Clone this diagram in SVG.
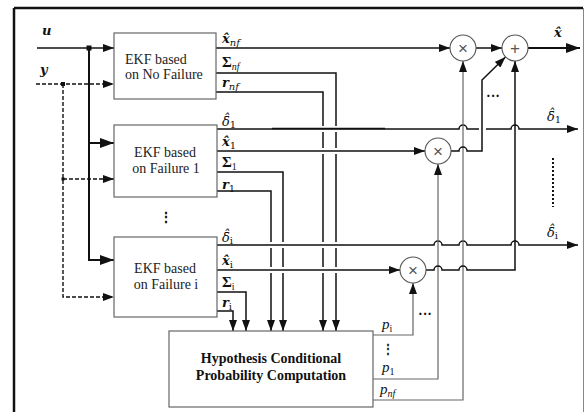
<svg xmlns="http://www.w3.org/2000/svg" width="586" height="412" viewBox="0 0 586 412">
<style>
.box{fill:#fff;stroke:#666;stroke-width:1.2}
.ln{fill:none;stroke:#111;stroke-width:1.5}
.th{fill:none;stroke:#111;stroke-width:2}
.gl{fill:none;stroke:#666;stroke-width:1.2}
.dash{fill:none;stroke:#111;stroke-width:1.4;stroke-dasharray:4 2}
.halo{fill:none;stroke:#fff;stroke-width:6}
.circ{fill:#fff;stroke:#555;stroke-width:1.1}
.t{font-family:"Liberation Serif",serif;font-size:14px;fill:#222}
.b{font-family:"Liberation Serif",serif;font-size:14px;font-weight:bold;fill:#111}
.m{font-family:"DejaVu Serif","Liberation Serif",serif;font-size:13px;font-weight:bold;font-style:italic;fill:#111}
.g{font-family:"Liberation Serif",serif;font-size:15px;font-weight:bold;fill:#111}
.d{font-family:"DejaVu Serif","Liberation Serif",serif;font-size:13px;font-style:italic;fill:#111}
.p{font-family:"Liberation Serif",serif;font-size:15px;font-style:italic;fill:#111}
.s{font-size:10px;font-style:italic;font-weight:normal}
.sr{font-size:10px;font-style:normal;font-weight:normal}
.op{font-family:"Liberation Sans",sans-serif;font-size:17px;fill:#555;text-anchor:middle}
</style>
<defs>
<marker id="a" markerUnits="userSpaceOnUse" markerWidth="11" markerHeight="8" refX="11" refY="4" orient="auto"><path d="M0,0 L11,4 L0,8 z" fill="#111"/></marker>
<marker id="ab" markerUnits="userSpaceOnUse" markerWidth="14" markerHeight="10" refX="14" refY="5" orient="auto"><path d="M0,0 L14,5 L0,10 z" fill="#111"/></marker>
</defs>
<g id="frame">
<path d="M14,8 H583" stroke="#111" stroke-width="2.5" fill="none"/>
<path d="M14,8 V412" stroke="#111" stroke-width="2.5" fill="none"/>
<path d="M583.5,8 V412" stroke="#888" stroke-width="1" fill="none"/>
</g>
<g id="connectors">
<path class="ln" d="M37,48 H114" marker-end="url(#a)"/>
<rect x="86.5" y="45.5" width="5" height="5" fill="#111"/>
<path class="th" d="M89,48 V260 H114" marker-end="url(#ab)"/>
<path class="th" d="M89,143 H114" marker-end="url(#ab)"/>
<path class="dash" d="M36,84 H114" marker-end="url(#a)"/>
<rect x="61" y="82" width="4" height="4" fill="#111"/>
<path class="dash" d="M63,84 V297 H114" marker-end="url(#a)"/>
<path class="dash" d="M63,179 H114" marker-end="url(#a)" stroke-width="1.1"/>
<rect x="61.5" y="177.5" width="3" height="3" fill="#111"/>
<path class="ln" d="M216,48 H450" marker-end="url(#a)"/>
<path class="ln" d="M216,73 H336 V331" marker-end="url(#a)"/>
<path class="ln" d="M216,92 H323 V331" marker-end="url(#a)"/>
<path class="ln" d="M217,172 H283 V331" marker-end="url(#a)"/>
<path class="ln" d="M217,191 H271 V331" marker-end="url(#a)"/>
<path class="ln" d="M217,292 H246 V331" marker-end="url(#a)"/>
<path class="ln" d="M217,311 H233 V331" marker-end="url(#a)"/>
<path class="halo" d="M264,129 H343 M264,151 H343 M264,245 H343 M264,270 H343"/>
<path class="ln" d="M217,129 H459 a4,4 0 0 1 8,0 H479 M486,129 H511 a4,4 0 0 1 8,0 H578" stroke-width="1.1" marker-end="url(#a)"/>
<path class="ln" d="M272,128.5 H385" stroke-width="2"/>
<path class="ln" d="M217,151 H425" marker-end="url(#a)"/>
<path class="ln" d="M217,245 H434 a4,4 0 0 1 8,0 H459 a4,4 0 0 1 8,0 H511 a4,4 0 0 1 8,0 H578" stroke-width="1.1" marker-end="url(#a)"/>
<path class="ln" d="M217,270 H400" stroke-width="1.8" marker-end="url(#a)"/>
<path class="gl" d="M373,400 H463 V61" marker-end="url(#a)"/>
<path class="gl" d="M373,379 H438 V164" marker-end="url(#a)"/>
<path class="gl" d="M373,335 H413 V283" marker-end="url(#a)"/>
<path class="ln" d="M451,151 H459 a4,4 0 0 1 8,0 H482 V80 L505.5,57" marker-end="url(#a)"/>
<path class="ln" d="M426,270 H434 a4,4 0 0 1 8,0 H459 a4,4 0 0 1 8,0 H515 V61" marker-end="url(#a)"/>
<path class="ln" d="M476,48 H502" marker-end="url(#a)"/>
<path class="th" d="M528,48 H580" marker-end="url(#ab)"/>
<path d="M553,158 V207" stroke="#111" stroke-width="2" stroke-dasharray="2 2" fill="none"/>
</g>
<g id="ekf_nf">
<rect class="box" x="114" y="33" width="102" height="66"/>
<text class="t" x="125" y="64">EKF based</text>
<text class="t" x="125" y="79">on No Failure</text>
</g>
<g id="ekf_1">
<rect class="box" x="114" y="125" width="103" height="72"/>
<text class="t" x="165" y="157" text-anchor="middle">EKF based</text>
<text class="t" x="166" y="173" text-anchor="middle">on Failure 1</text>
</g>
<g id="ekf_i">
<rect class="box" x="114" y="237" width="103" height="80"/>
<text class="t" x="165" y="273" text-anchor="middle">EKF based</text>
<text class="t" x="166" y="289" text-anchor="middle">on Failure i</text>
</g>
<g id="hcp">
<rect class="box" x="169" y="331" width="204" height="76"/>
<text class="b" x="271" y="363" text-anchor="middle">Hypothesis Conditional</text>
<text class="b" x="271" y="380" text-anchor="middle">Probability Computation</text>
</g>
<g id="mult_nf"><circle class="circ" cx="463" cy="48" r="13"/><text class="op" x="463" y="54">×</text></g>
<g id="mult_1"><circle class="circ" cx="438" cy="151" r="13"/><text class="op" x="438" y="157">×</text></g>
<g id="mult_i"><circle class="circ" cx="413" cy="270" r="13"/><text class="op" x="413" y="276">×</text></g>
<g id="sum"><circle class="circ" cx="515" cy="48" r="13"/><text class="op" x="515" y="54">+</text></g>
<g id="labels">
<text class="m" x="42" y="35">u</text>
<text class="m" x="40" y="74">y</text>
<text class="m" x="222" y="43">x̂<tspan class="s" dy="3">nf</tspan></text>
<text class="g" x="222" y="67">Σ<tspan class="s" dy="3">nf</tspan></text>
<text class="m" x="222" y="87">r<tspan class="s" dy="3">nf</tspan></text>
<text class="d" x="222" y="126">δ̄̂<tspan class="sr" dy="2">1</tspan></text>
<text class="m" x="222" y="146">x̂<tspan class="sr" dy="3">1</tspan></text>
<text class="g" x="222" y="167">Σ<tspan class="sr" dy="3">1</tspan></text>
<text class="m" x="222" y="189">r<tspan class="sr" dy="3">1</tspan></text>
<text class="d" x="222" y="242">δ̄̂<tspan class="sr" dy="2">i</tspan></text>
<text class="m" x="222" y="265">x̂<tspan class="sr" dy="3">i</tspan></text>
<text class="g" x="222" y="287">Σ<tspan class="sr" dy="3">i</tspan></text>
<text class="m" x="222" y="307">r<tspan class="sr" dy="3">i</tspan></text>
<text class="d" x="547" y="121">δ̄̂<tspan class="sr" dy="2">1</tspan></text>
<text class="d" x="547" y="237">δ̄̂<tspan class="sr" dy="2">i</tspan></text>
<text class="m" x="554" y="37">x̂</text>
<text class="p" x="382" y="329">p<tspan class="sr" dy="3">i</tspan></text>
<text class="p" x="382" y="372">p<tspan class="sr" dy="3">1</tspan></text>
<text class="p" x="380" y="394">p<tspan class="s" dy="3">nf</tspan></text>
<text class="b" x="166" y="222" text-anchor="middle">⋮</text>
<text class="b" x="388" y="353" text-anchor="middle" style="font-size:12px">⋮</text>
<text class="b" x="493" y="101" text-anchor="middle">···</text>
<text class="b" x="425" y="319" text-anchor="middle">···</text>
</g>
</svg>
